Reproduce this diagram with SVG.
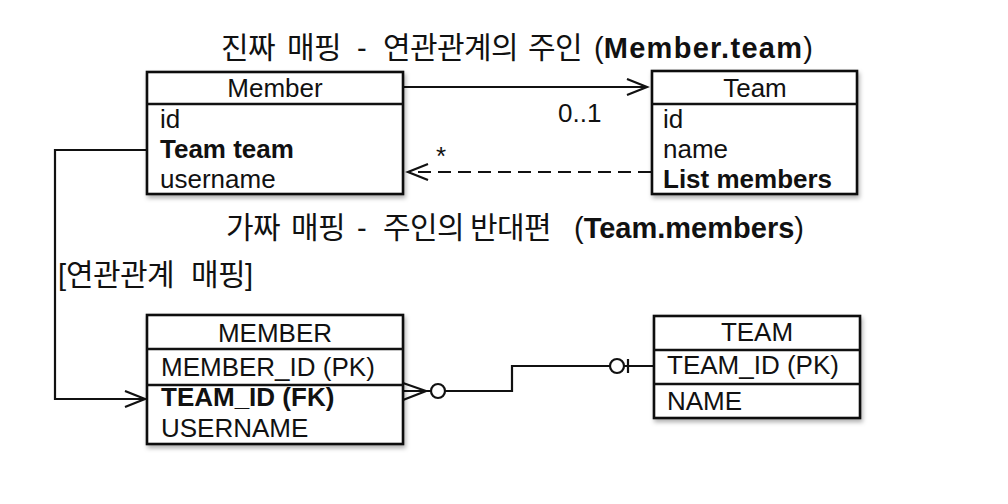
<svg xmlns="http://www.w3.org/2000/svg" width="1008" height="504" viewBox="0 0 1008 504">
  <defs>
    <filter id="sh" x="-10%" y="-10%" width="130%" height="130%">
      <feDropShadow dx="1.5" dy="3" stdDeviation="2" flood-color="#000" flood-opacity="0.3"/>
    </filter>
    <marker id="open" markerUnits="userSpaceOnUse" markerWidth="24" markerHeight="20" refX="21" refY="9" orient="auto">
      <path d="M1,1 L21,9 L1,17" fill="none" stroke="#111" stroke-width="2.2"/>
    </marker>
  </defs>
  <style>
    .box{fill:#fff;stroke:#111;stroke-width:2.6}
    .div{stroke:#111;stroke-width:2.4}
    text{font-family:"Liberation Sans","Noto Sans CJK KR",sans-serif;fill:#111}
    .t{font-size:26px}
    .b{font-weight:bold}
    .ttl{font-size:29px}
    .ko{font-family:"Noto Sans CJK KR","Liberation Sans",sans-serif;font-size:30px;letter-spacing:-0.6px}
    .ln{fill:none;stroke:#111;stroke-width:2.2}
  </style>
  <rect width="1008" height="504" fill="#fff"/>

  <g id="labels">
    <text class="ttl" y="58"><tspan class="ko" x="221">진짜</tspan><tspan class="ko" x="287">매핑</tspan><tspan x="357">-</tspan><tspan class="ko" x="383">연관관계의</tspan><tspan class="ko" x="528">주인</tspan><tspan x="594">(</tspan><tspan class="b" letter-spacing="1.3">Member.team</tspan><tspan>)</tspan></text>
    <text class="ttl" y="238"><tspan class="ko" x="226">가짜</tspan><tspan class="ko" x="291">매핑</tspan><tspan x="357">-</tspan><tspan class="ko" x="383">주인의</tspan><tspan class="ko" x="470">반대편</tspan><tspan x="574">(</tspan><tspan class="b">Team.members</tspan><tspan>)</tspan></text>
    <text class="ttl" y="285"><tspan x="58">[</tspan><tspan class="ko" x="66">연관관계</tspan><tspan class="ko" x="191">매핑</tspan><tspan>]</tspan></text>
  </g>

  <g id="connectors">
    <path class="ln" d="M403,87 H647" marker-end="url(#open)"/>
    <text class="t" x="558" y="122">0..1</text>
    <path class="ln" d="M651,172 H408" stroke-dasharray="13 7" marker-end="url(#open)"/>
    <text class="t" x="436" y="165">*</text>
    <path class="ln" d="M147,150 H55 V399 H145" marker-end="url(#open)"/>
    <path class="ln" d="M403,383 L426,391 L403,400 M403,391 H431"/>
    <circle cx="438" cy="391" r="7" fill="#fff" stroke="#111" stroke-width="2.2"/>
    <path class="ln" d="M445,391 H512 V366 H610"/>
    <circle cx="617" cy="366" r="7" fill="#fff" stroke="#111" stroke-width="2.2"/>
    <path class="ln" d="M624,366 H654 M628,359 V373"/>
  </g>

  <g id="member">
    <rect class="box" x="147" y="72" width="256" height="122" filter="url(#sh)"/>
    <line class="div" x1="147" y1="104" x2="403" y2="104"/>
    <text class="t" x="275" y="97" text-anchor="middle">Member</text>
    <text class="t" x="160" y="128">id</text>
    <text class="t b" x="160" y="158">Team team</text>
    <text class="t" x="160" y="188">username</text>
  </g>

  <g id="team">
    <rect class="box" x="652" y="71" width="205" height="123" filter="url(#sh)"/>
    <line class="div" x1="652" y1="104" x2="857" y2="104"/>
    <text class="t" x="755" y="97" text-anchor="middle">Team</text>
    <text class="t" x="663" y="128">id</text>
    <text class="t" x="663" y="158">name</text>
    <text class="t b" x="663" y="188">List members</text>
  </g>

  <g id="member-table">
    <rect class="box" x="147" y="315" width="256" height="129" filter="url(#sh)"/>
    <line class="div" x1="147" y1="349" x2="403" y2="349"/>
    <line class="div" x1="147" y1="385" x2="403" y2="385"/>
    <text class="t" x="275" y="342" text-anchor="middle">MEMBER</text>
    <text class="t" x="161" y="376">MEMBER_ID (PK)</text>
    <text class="t b" x="161" y="406">TEAM_ID (FK)</text>
    <text class="t" x="161" y="437">USERNAME</text>
  </g>

  <g id="team-table">
    <rect class="box" x="654" y="316" width="206" height="102" filter="url(#sh)"/>
    <line class="div" x1="654" y1="350" x2="860" y2="350"/>
    <line class="div" x1="654" y1="384" x2="860" y2="384"/>
    <text class="t" x="757" y="341" text-anchor="middle">TEAM</text>
    <text class="t" x="667" y="374">TEAM_ID (PK)</text>
    <text class="t" x="667" y="410">NAME</text>
  </g>
</svg>
